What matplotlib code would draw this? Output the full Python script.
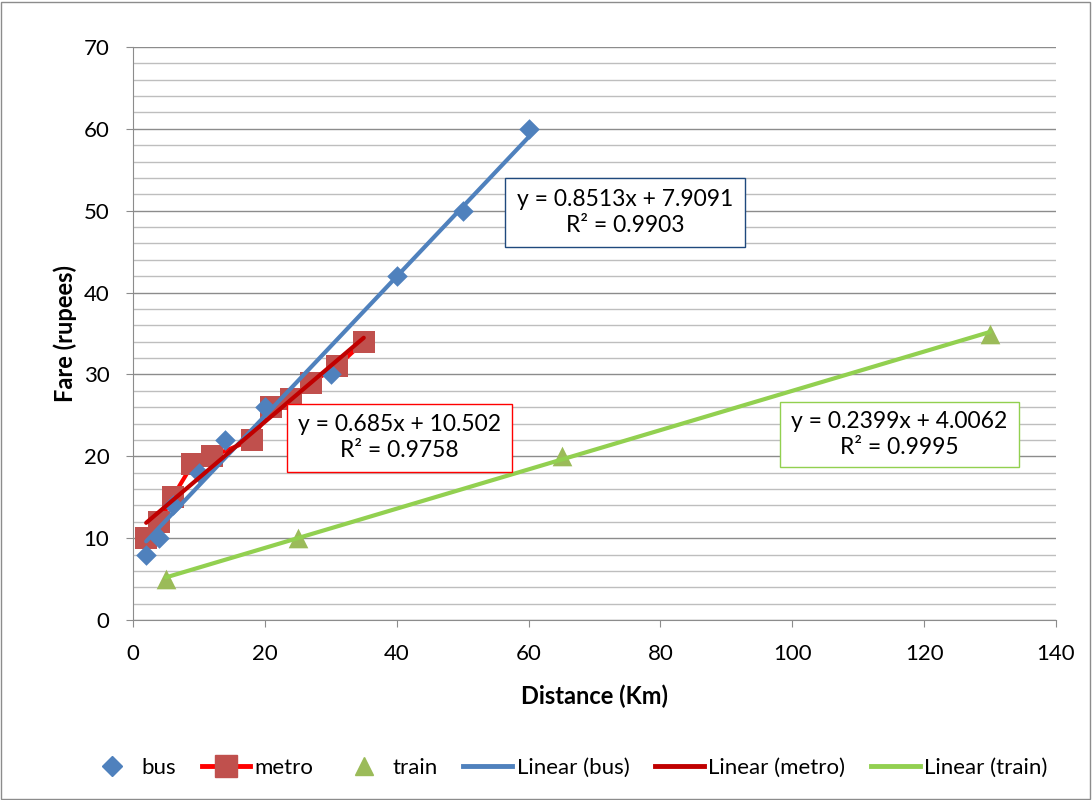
import numpy as np
import matplotlib
matplotlib.use("Agg")
import matplotlib.pyplot as plt
from matplotlib.lines import Line2D
from matplotlib.patches import Rectangle

# ── data ──────────────────────────────────────────────────────────────────────
bus_x   = [2, 4, 6, 10, 14, 20, 30, 40, 50, 60]
bus_y   = [8, 10, 14, 18, 22, 26, 30, 42, 50, 60]
metro_x = [2, 4, 6, 9, 12, 18, 21, 24, 27, 31, 35]
metro_y = [10, 12, 15, 19, 20, 22, 26, 27, 29, 31, 34]
train_x = [5, 25, 65, 130]
train_y = [5, 10, 20, 35]

BUS_C, METRO_C, TRAIN_C = "#4F81BD", "#C0504D", "#9BBB59"
METRO_LINE = "#FF0000"
FIT_BUS, FIT_METRO, FIT_TRAIN = "#4F81BD", "#C00000", "#92D050"

plt.rcParams["font.family"] = ["Lato", "DejaVu Sans"]
plt.rcParams["font.size"] = 16


def fit(x, y):
    x = np.asarray(x, float)
    y = np.asarray(y, float)
    m, b = np.polyfit(x, y, 1)
    r2 = np.corrcoef(x, y)[0, 1] ** 2
    return m, b, r2


fig = plt.figure(figsize=(10.92, 8.0), dpi=100)
fig.patches.append(Rectangle((0.001, 0.001), 0.997, 0.997, transform=fig.transFigure,
                             fill=False, edgecolor="#8C8C8C", linewidth=1.0))
ax = fig.add_axes([133 / 1092, 1 - 620 / 800, (1056 - 133) / 1092, (620 - 47) / 800])

ax.set_xlim(0, 140)
ax.set_ylim(0, 70)
ax.set_xticks(np.arange(0, 141, 20))
ax.set_yticks(np.arange(0, 71, 10))
ax.set_yticks(np.arange(0, 71, 2), minor=True)
ax.grid(True, which="major", axis="y", color="#8C8C8C", linewidth=1.0)
ax.grid(True, which="minor", axis="y", color="#BEBEBE", linewidth=1.0)
ax.set_axisbelow(True)
for s in ["top", "right"]:
    ax.spines[s].set_visible(False)
for s in ["left", "bottom"]:
    ax.spines[s].set_color("#8C8C8C")
ax.tick_params(axis="both", which="major", direction="out", length=5, color="#8C8C8C")
ax.tick_params(axis="x", pad=12)
ax.tick_params(axis="y", pad=12)
ax.tick_params(axis="y", which="minor", length=0)

# series
ax.plot(metro_x, metro_y, color=METRO_LINE, linewidth=3, zorder=3)
ax.scatter(metro_x, metro_y, marker="s", s=260, color=METRO_C, zorder=4, linewidths=0)
ax.scatter(bus_x, bus_y, marker="D", s=110, color=BUS_C, zorder=5, linewidths=0)
ax.scatter(train_x, train_y, marker="^", s=200, color=TRAIN_C, zorder=5, linewidths=0)

# trend lines
fits = []
for xs, ys, c in [(bus_x, bus_y, FIT_BUS), (metro_x, metro_y, FIT_METRO), (train_x, train_y, FIT_TRAIN)]:
    m, b, r2 = fit(xs, ys)
    xx = np.array([min(xs), max(xs)])
    ax.plot(xx, m * xx + b, color=c, linewidth=3, zorder=6, solid_capstyle="round")
    fits.append((m, b, r2))


def eq_box(x0, x1, y0, y1, m, b, r2, ec):
    ax.add_patch(Rectangle((x0, y0), x1 - x0, y1 - y0, facecolor="white",
                           edgecolor=ec, linewidth=1.0, zorder=7))
    txt = f"y = {m:.4g}x + {b:.5g}\nR\u00b2 = {r2:.4f}"
    ax.text((x0 + x1) / 2, (y0 + y1) / 2, txt, ha="center", va="center", fontsize=16.5,
            linespacing=1.3, zorder=8)


eq_box(56.4, 92.8, 45.6, 54.0, *fits[0], "#1F497D")
eq_box(23.4, 57.5, 18.1, 26.4, *fits[1], "#FF0000")
eq_box(98.1, 134.4, 18.7, 26.6, *fits[2], "#92D050")

ax.set_xlabel("Distance (Km)", fontsize=17, fontweight="bold", labelpad=15)
ax.set_ylabel("Fare (rupees)", fontsize=17, fontweight="bold", labelpad=5)

handles = [
    Line2D([], [], linestyle="none", marker="D", color=BUS_C, markersize=10),
    Line2D([], [], color=METRO_LINE, linewidth=3.5, marker="s", markerfacecolor=METRO_C,
           markeredgecolor=METRO_C, markersize=16),
    Line2D([], [], linestyle="none", marker="^", color=TRAIN_C, markersize=13),
    Line2D([], [], color=FIT_BUS, linewidth=3.5),
    Line2D([], [], color=FIT_METRO, linewidth=3.5),
    Line2D([], [], color=FIT_TRAIN, linewidth=3.5),
]
labels = ["bus", "metro", "train", "Linear (bus)", "Linear (metro)", "Linear (train)"]
fig.legend(handles, labels, loc="center", bbox_to_anchor=(0.52, 1 - 768 / 800), ncol=6,
           frameon=False, fontsize=16, handlelength=2.2, handletextpad=0.2, columnspacing=1.15)

fig.savefig("out.png", dpi=100)
